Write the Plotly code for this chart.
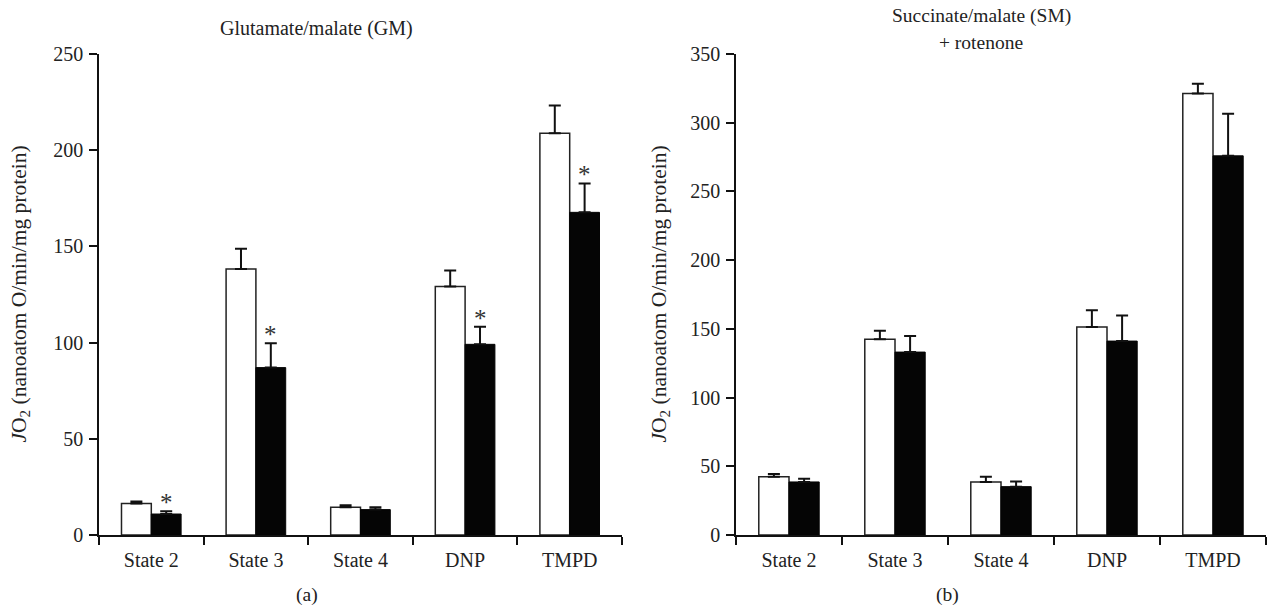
import plotly.graph_objects as go

categories = ["State 2", "State 3", "State 4", "DNP", "TMPD"]

# Panel (a) Glutamate/malate
gm_control = [16.4, 138.3, 14.4, 129.2, 208.8]
gm_control_err = [1.0, 10.5, 1.0, 8.3, 14.4]
gm_treated = [10.9, 87.0, 13.2, 99.1, 167.7]
gm_treated_err = [1.5, 12.6, 1.2, 9.2, 15.0]
gm_signif = [True, True, False, True, True]

# Panel (b) Succinate/malate + rotenone
sm_control = [42.3, 142.5, 38.6, 151.3, 321.3]
sm_control_err = [2.0, 6.2, 3.7, 12.2, 7.1]
sm_treated = [38.6, 133.1, 35.2, 141.1, 275.9]
sm_treated_err = [2.3, 11.7, 3.7, 18.7, 30.7]

FONT = "Liberation Serif"
TXT = "#222"
BARGAP = 0.43
W, H = 1268, 613

pos = list(range(len(categories)))
bounds = [p - 0.5 for p in pos] + [pos[-1] + 0.5]

fig = go.Figure()


def add_pair(ctrl, ctrl_err, trt, trt_err, xa, ya):
    fig.add_trace(go.Bar(
        x=pos, y=ctrl, xaxis=xa, yaxis=ya,
        marker=dict(color="white", line=dict(color="#222", width=1.5)),
        error_y=dict(type="data", array=ctrl_err, arrayminus=[0] * len(ctrl),
                     symmetric=False, color="#111", thickness=2, width=6),
        showlegend=False, hoverinfo="skip"))
    fig.add_trace(go.Bar(
        x=pos, y=trt, xaxis=xa, yaxis=ya,
        marker=dict(color="#050505", line=dict(color="#050505", width=1)),
        error_y=dict(type="data", array=trt_err, arrayminus=[0] * len(trt),
                     symmetric=False, color="#111", thickness=2, width=6),
        showlegend=False, hoverinfo="skip"))


add_pair(gm_control, gm_control_err, gm_treated, gm_treated_err, "x", "y")
add_pair(sm_control, sm_control_err, sm_treated, sm_treated_err, "x2", "y2")

annotations = []
# significance asterisks above treated bars (panel a)
offset = (1 - BARGAP) / 4
for p, v, e, s in zip(pos, gm_treated, gm_treated_err, gm_signif):
    if s:
        annotations.append(dict(x=p + offset, y=v + e, xref="x", yref="y", text="*",
                                showarrow=False, xanchor="center", yanchor="bottom",
                                yshift=-7, font=dict(family=FONT, size=25, color="#333")))


def note(text, x, y, size, **kw):
    return dict(text=text, x=x / W, y=y, xref="paper", yref="paper", xanchor="center",
                yanchor="middle", showarrow=False,
                font=dict(family=FONT, size=size, color=TXT), **kw)


ytitle = "<i>J</i>O<sub>2</sub> (nanoatom O/min/mg protein)"
annotations += [
    note("Glutamate/malate (GM)", 316, 1.054, 20),
    note("Succinate/malate (SM)", 981, 1.079, 19.5),
    note("+ rotenone", 981, 1.024, 19.5),
    note("(a)", 307, -0.125, 19.5),
    note("(b)", 947, -0.125, 19.5),
    note(ytitle, 20, 0.5, 21.5, textangle=-90),
    note(ytitle, 660, 0.5, 21.5, textangle=-90),
]

xaxis_common = dict(range=[bounds[0], bounds[-1]], tickmode="array", tickvals=pos,
                    ticktext=categories, showline=True, linecolor="#111", linewidth=1.5,
                    ticks="", showgrid=False, zeroline=False, ticklabelstandoff=6,
                    minor=dict(tickmode="array", tickvals=bounds, ticks="outside",
                               ticklen=8, tickcolor="#111", tickwidth=1.5, showgrid=False),
                    tickfont=dict(family=FONT, size=20, color=TXT))
yaxis_common = dict(showline=True, linecolor="#111", linewidth=1.5, ticks="outside",
                    ticklen=8, tickcolor="#111", tickwidth=1.5, showgrid=False,
                    zeroline=False, dtick=50, ticklabelstandoff=2,
                    tickfont=dict(family=FONT, size=20, color=TXT))

fig.update_layout(
    width=W, height=H,
    barmode="group", bargap=BARGAP, bargroupgap=0,
    plot_bgcolor="white", paper_bgcolor="white",
    margin=dict(l=0, r=0, t=54, b=78),
    xaxis=dict(domain=[99 / W, 622 / W], **xaxis_common),
    yaxis=dict(range=[0, 250], **yaxis_common),
    xaxis2=dict(domain=[736 / W, 1266 / W], anchor="y2", **xaxis_common),
    yaxis2=dict(range=[0, 350], anchor="x2", **yaxis_common),
    annotations=annotations,
)

fig.write_html("out.html", config={"displayModeBar": False},
               post_script="document.body.style.margin='0px';document.body.style.overflow='hidden';")
